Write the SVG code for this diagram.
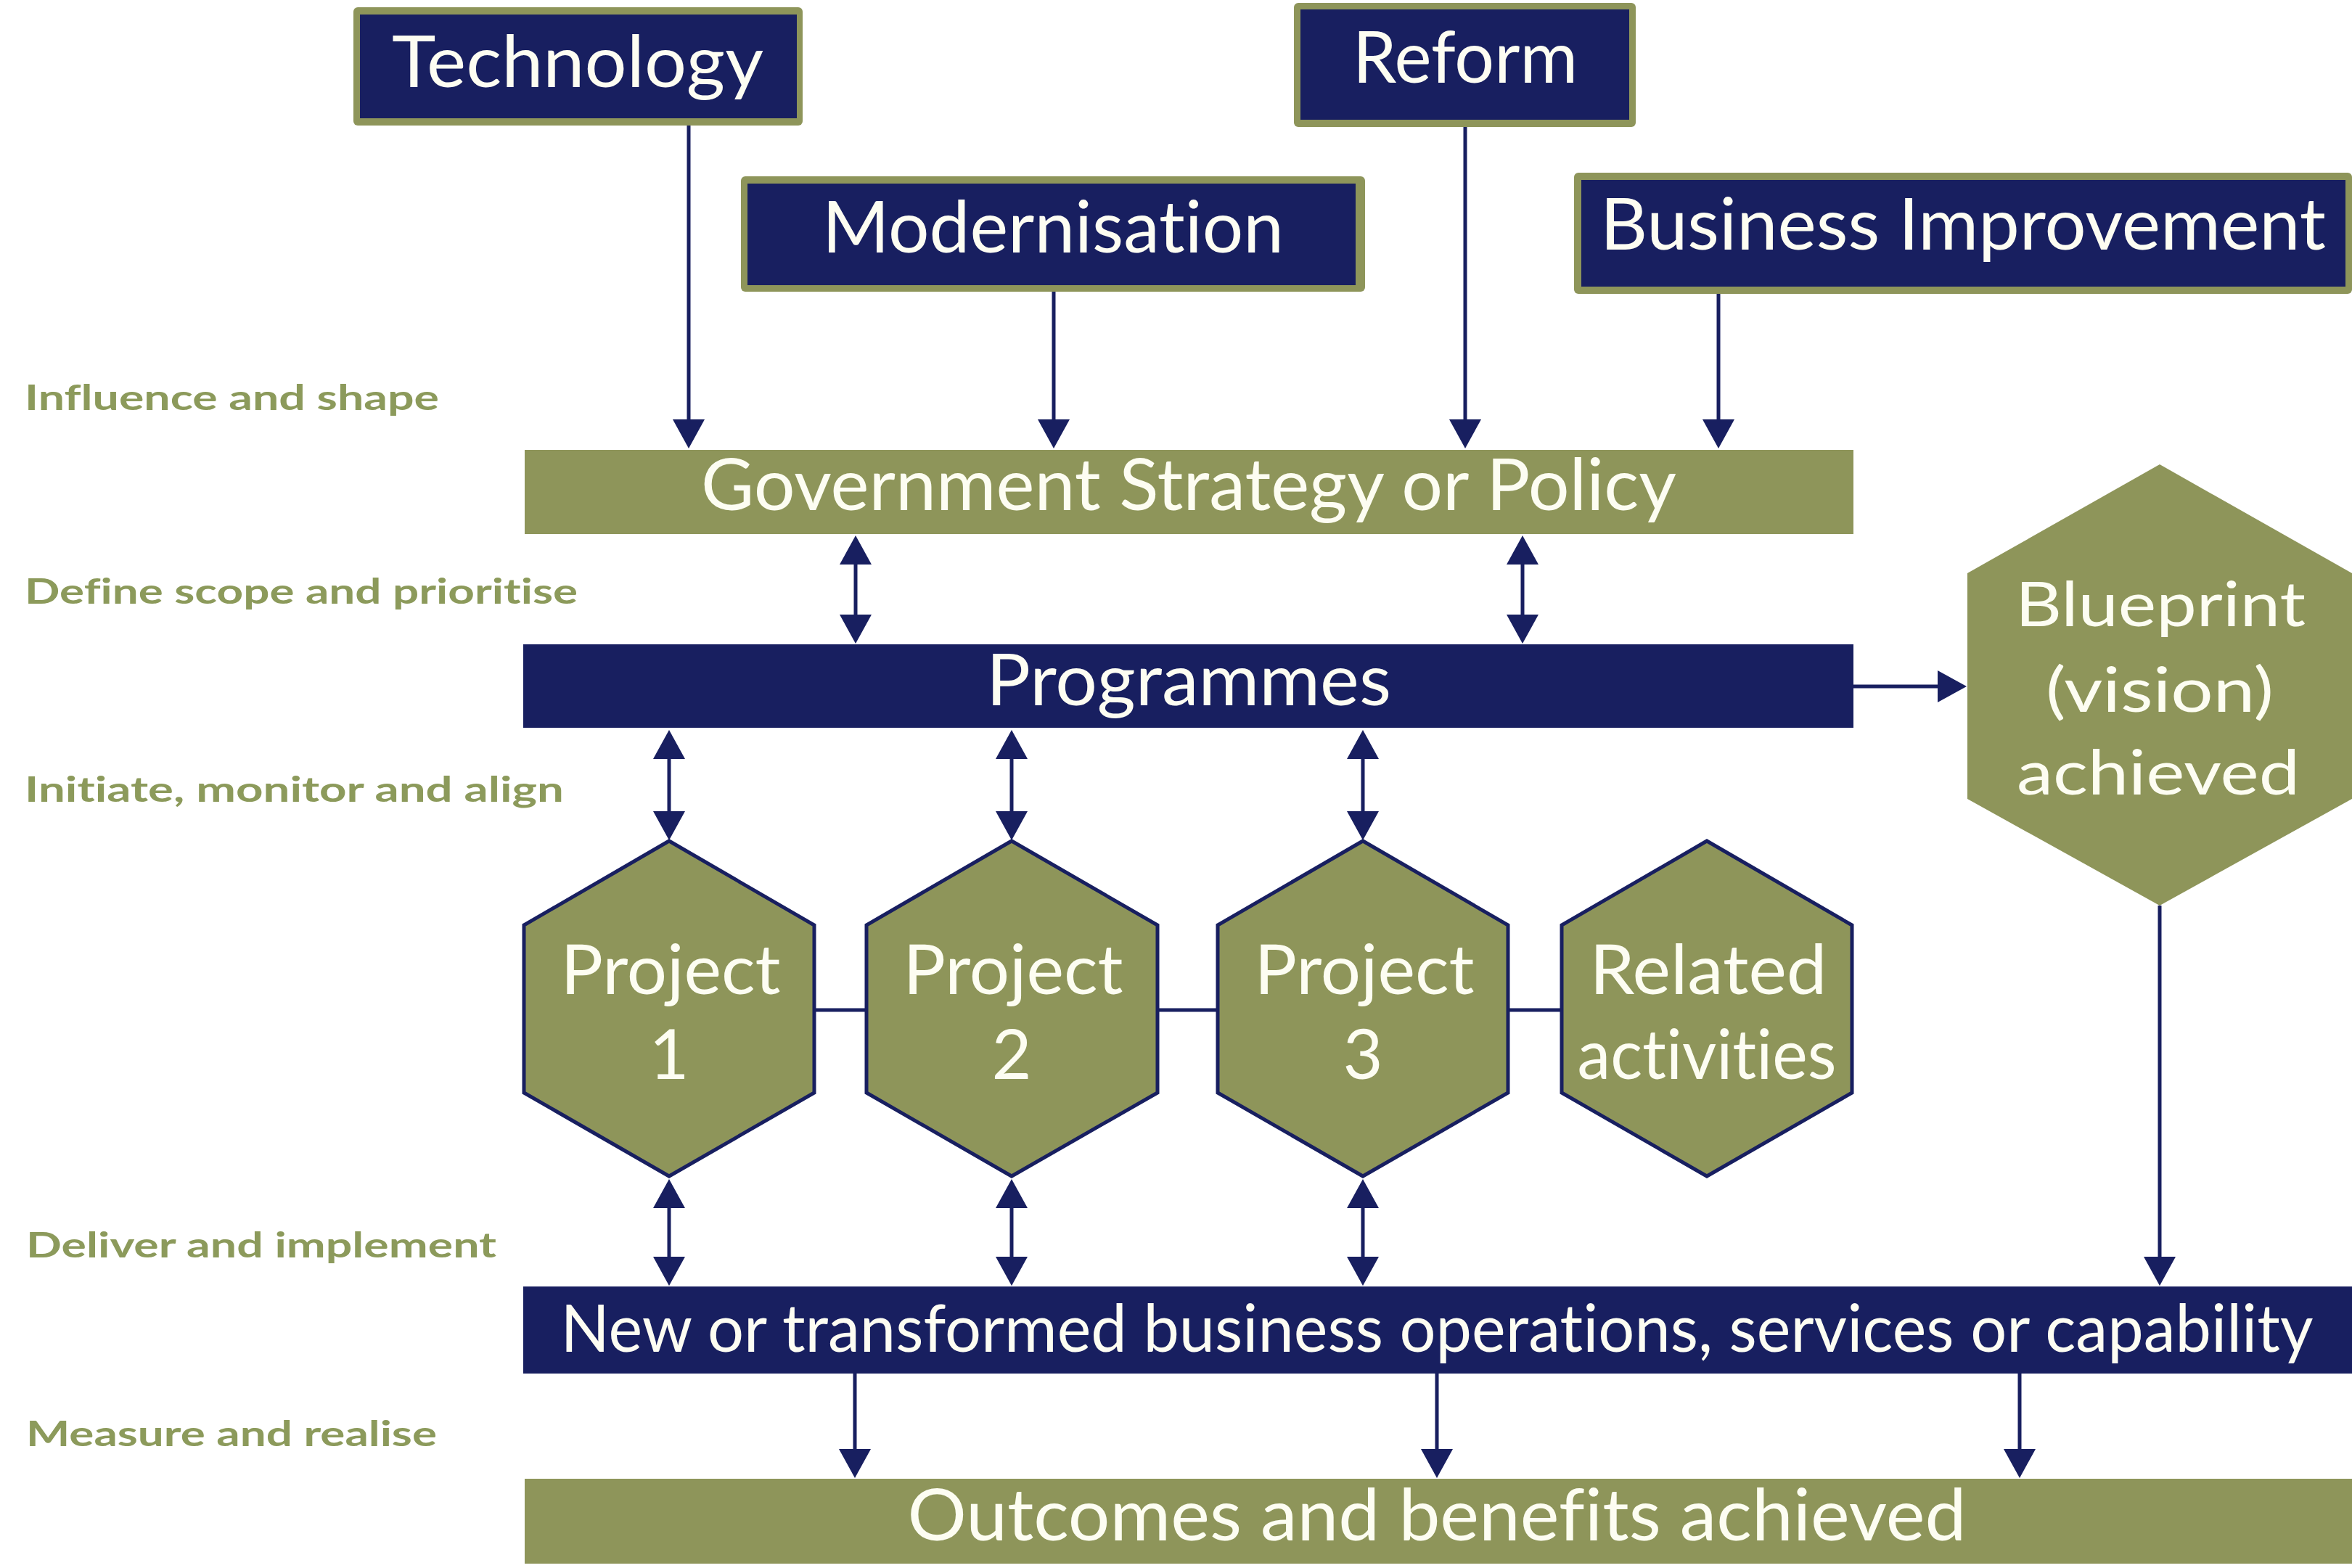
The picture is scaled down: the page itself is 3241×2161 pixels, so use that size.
<svg xmlns="http://www.w3.org/2000/svg" width="3241" height="2161" viewBox="0 0 3241 2161">
<style>
.navy{fill:#181f60}
.olive{fill:#8e955a}
text{font-variant-ligatures:none;font-feature-settings:"liga" 0,"clig" 0}
.t{font-family:Lato,"Open Sans","Liberation Sans",sans-serif;fill:#fdfdf2;text-anchor:middle}
.lbl{font-family:Lato,"Open Sans","Liberation Sans",sans-serif;font-weight:bold;font-size:48px;fill:#8c9a5b}
.hex{fill:#8e955a;stroke:#181f60;stroke-width:5;stroke-linejoin:miter}
.c{stroke:#181f60;stroke-width:5;fill:none}
.a{marker-end:url(#ah)}
.d{marker-start:url(#ah);marker-end:url(#ah)}
</style>
<defs>
<marker id="ah" markerUnits="userSpaceOnUse" markerWidth="42" markerHeight="46" refX="30" refY="23" orient="auto-start-reverse" viewBox="0 0 42 46">
<path d="M0,1 L40,23 L0,45 z" fill="#181f60"/>
</marker>
</defs>
<rect width="3241" height="2161" fill="#ffffff"/>

<g id="labels">
<text class="lbl" x="34" y="565" textLength="571" lengthAdjust="spacingAndGlyphs">Influence and shape</text>
<text class="lbl" x="34" y="832" textLength="762" lengthAdjust="spacingAndGlyphs">Define scope and prioritise</text>
<text class="lbl" x="34" y="1105" textLength="743" lengthAdjust="spacingAndGlyphs">Initiate, monitor and align</text>
<text class="lbl" x="36" y="1733" textLength="648" lengthAdjust="spacingAndGlyphs">Deliver and implement</text>
<text class="lbl" x="36" y="1993" textLength="566" lengthAdjust="spacingAndGlyphs">Measure and realise</text>
</g>

<g id="connectors">
<line class="c a" x1="949" y1="173" x2="949" y2="608"/>
<line class="c a" x1="1452" y1="399" x2="1452" y2="608"/>
<line class="c a" x1="2019" y1="174" x2="2019" y2="608"/>
<line class="c a" x1="2368" y1="405" x2="2368" y2="608"/>
<line class="c d" x1="1179" y1="748" x2="1179" y2="877"/>
<line class="c d" x1="2098" y1="748" x2="2098" y2="877"/>
<line class="c a" x1="2554" y1="946" x2="2700" y2="946"/>
<line class="c d" x1="922" y1="1016" x2="922" y2="1148"/>
<line class="c d" x1="1394" y1="1016" x2="1394" y2="1148"/>
<line class="c d" x1="1878" y1="1016" x2="1878" y2="1148"/>
<line class="c" x1="1122" y1="1392" x2="1194" y2="1392"/>
<line class="c" x1="1595" y1="1392" x2="1678" y2="1392"/>
<line class="c" x1="2078" y1="1392" x2="2152" y2="1392"/>
<line class="c d" x1="922" y1="1635" x2="922" y2="1762"/>
<line class="c d" x1="1394" y1="1635" x2="1394" y2="1762"/>
<line class="c d" x1="1878" y1="1635" x2="1878" y2="1762"/>
<line class="c a" x1="2976" y1="1248" x2="2976" y2="1762"/>
<line class="c a" x1="1178" y1="1893" x2="1178" y2="2027"/>
<line class="c a" x1="1980" y1="1893" x2="1980" y2="2027"/>
<line class="c a" x1="2783" y1="1893" x2="2783" y2="2027"/>
</g>

<g id="technology">
<rect class="olive" x="487" y="10" width="619" height="163" rx="6"/>
<rect class="navy" x="496" y="20" width="602" height="143"/>
<text class="t" x="796" y="120" font-size="98" textLength="512" lengthAdjust="spacingAndGlyphs">Technology</text>
</g>
<g id="modernisation">
<rect class="olive" x="1021" y="243" width="860" height="159" rx="6"/>
<rect class="navy" x="1030" y="253" width="838" height="140"/>
<text class="t" x="1451" y="348" font-size="98" textLength="636" lengthAdjust="spacingAndGlyphs">Modernisation</text>
</g>
<g id="reform">
<rect class="olive" x="1783" y="4" width="471" height="171" rx="6"/>
<rect class="navy" x="1792" y="13" width="453" height="152"/>
<text class="t" x="2019" y="114" font-size="98" textLength="310" lengthAdjust="spacingAndGlyphs">Reform</text>
</g>
<g id="business-improvement">
<rect class="olive" x="2169" y="238" width="1072" height="167" rx="6"/>
<rect class="navy" x="2179" y="248" width="1053" height="147"/>
<text class="t" x="2705" y="344" font-size="98" textLength="1000" lengthAdjust="spacingAndGlyphs">Business Improvement</text>
</g>

<g id="government-strategy">
<rect class="olive" x="723" y="620" width="1831" height="116"/>
<text class="t" x="1638" y="703" font-size="98" textLength="1344" lengthAdjust="spacingAndGlyphs">Government Strategy or Policy</text>
</g>
<g id="programmes">
<rect class="navy" x="721" y="888" width="1833" height="115"/>
<text class="t" x="1638" y="972" font-size="98" textLength="558" lengthAdjust="spacingAndGlyphs">Programmes</text>
</g>
<g id="blueprint">
<polygon class="olive" points="2976,640 3241,790 3241,1101 2976,1248 2711,1101 2711,790"/>
<text class="t" x="2977" y="863" font-size="86" textLength="400" lengthAdjust="spacingAndGlyphs">Blueprint</text>
<text class="t" x="2976" y="981" font-size="86" textLength="314" lengthAdjust="spacingAndGlyphs">(vision)</text>
<text class="t" x="2974" y="1095" font-size="86" textLength="390" lengthAdjust="spacingAndGlyphs">achieved</text>
</g>

<g id="project-1">
<polygon class="hex" points="922,1159 1122,1275 1122,1506 922,1621 722,1506 722,1275"/>
<text class="t" x="924" y="1370" font-size="95" textLength="303" lengthAdjust="spacingAndGlyphs">Project</text>
<text class="t" x="922" y="1487" font-size="95">1</text>
</g>
<g id="project-2">
<polygon class="hex" points="1394,1159 1595,1275 1595,1506 1394,1621 1194,1506 1194,1275"/>
<text class="t" x="1396" y="1370" font-size="95" textLength="303" lengthAdjust="spacingAndGlyphs">Project</text>
<text class="t" x="1394" y="1487" font-size="95">2</text>
</g>
<g id="project-3">
<polygon class="hex" points="1878,1159 2078,1275 2078,1506 1878,1621 1678,1506 1678,1275"/>
<text class="t" x="1880" y="1370" font-size="95" textLength="303" lengthAdjust="spacingAndGlyphs">Project</text>
<text class="t" x="1878" y="1487" font-size="95">3</text>
</g>
<g id="related-activities">
<polygon class="hex" points="2352,1159 2552,1275 2552,1506 2352,1621 2152,1506 2152,1275"/>
<text class="t" x="2354" y="1370" font-size="95" textLength="327" lengthAdjust="spacingAndGlyphs">Related</text>
<text class="t" x="2352" y="1487" font-size="95" textLength="357" lengthAdjust="spacingAndGlyphs">activities</text>
</g>

<g id="new-operations">
<rect class="navy" x="721" y="1773" width="2520" height="120"/>
<text class="t" x="1980" y="1863" font-size="92" textLength="2415" lengthAdjust="spacingAndGlyphs">New or transformed business operations, services or capability</text>
</g>
<g id="outcomes">
<rect class="olive" x="723" y="2038" width="2518" height="117"/>
<text class="t" x="1980" y="2123" font-size="98" textLength="1459" lengthAdjust="spacingAndGlyphs">Outcomes and benefits achieved</text>
</g>
</svg>
